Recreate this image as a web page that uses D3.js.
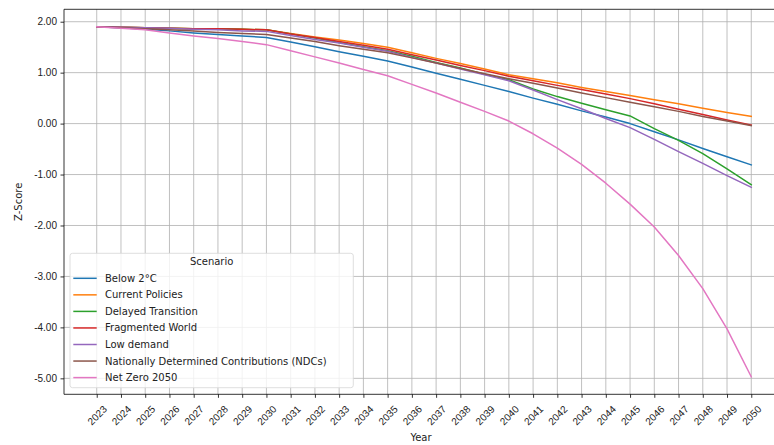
<!DOCTYPE html>
<html>
<head>
<meta charset="utf-8">
<script src="https://cdn.jsdelivr.net/npm/d3@7"></script>
<style>
  html, body { margin: 0; padding: 0; background: #fff; }
  svg { display: block; font-family: "DejaVu Sans", sans-serif; }
</style>
</head>
<body>
<svg id="chart" width="774" height="445"></svg>
<script>
// Z-score trajectories per scenario, one value per year 2023–2050
const years = d3.range(2023, 2051);

const scenarios = [
  "Below 2°C",
  "Current Policies",
  "Delayed Transition",
  "Fragmented World",
  "Low demand",
  "Nationally Determined Contributions (NDCs)",
  "Net Zero 2050"
];

const below2C = [1.90, 1.88, 1.85, 1.82, 1.78, 1.75, 1.72, 1.69,
  1.60, 1.51, 1.41, 1.32, 1.23, 1.11, 0.99, 0.87, 0.75, 0.63,
  0.50, 0.38, 0.25, 0.13, 0.00, -0.16, -0.32, -0.49, -0.65, -0.81];

const currentPolicies = [1.90, 1.89, 1.88, 1.87, 1.86, 1.86, 1.85, 1.84,
  1.77, 1.70, 1.64, 1.57, 1.50, 1.39, 1.28, 1.18, 1.07, 0.96,
  0.88, 0.80, 0.71, 0.63, 0.55, 0.47, 0.39, 0.30, 0.22, 0.14];

const delayedTransition = [1.90, 1.89, 1.88, 1.87, 1.86, 1.86, 1.85, 1.84,
  1.76, 1.68, 1.59, 1.51, 1.43, 1.32, 1.20, 1.09, 0.97, 0.86,
  0.68, 0.53, 0.40, 0.27, 0.15, -0.10, -0.33, -0.59, -0.89, -1.20];

const fragmentedWorld = [1.90, 1.89, 1.88, 1.87, 1.86, 1.86, 1.85, 1.84,
  1.76, 1.69, 1.61, 1.54, 1.46, 1.35, 1.25, 1.14, 1.04, 0.93,
  0.84, 0.75, 0.67, 0.58, 0.49, 0.39, 0.28, 0.18, 0.07, -0.03];

const lowDemand = [1.90, 1.89, 1.88, 1.87, 1.85, 1.84, 1.82, 1.81,
  1.73, 1.65, 1.58, 1.50, 1.42, 1.30, 1.19, 1.07, 0.96, 0.84,
  0.66, 0.47, 0.29, 0.10, -0.08, -0.31, -0.55, -0.78, -1.02, -1.25];

const ndcs = [1.90, 1.88, 1.86, 1.84, 1.82, 1.79, 1.77, 1.75,
  1.68, 1.61, 1.53, 1.46, 1.39, 1.29, 1.19, 1.08, 0.98, 0.88,
  0.79, 0.70, 0.60, 0.51, 0.42, 0.33, 0.24, 0.14, 0.05, -0.04];

const netZero2050 = [1.90, 1.87, 1.84, 1.78, 1.72, 1.67, 1.61, 1.55,
  1.43, 1.31, 1.19, 1.06, 0.94, 0.77, 0.60, 0.42, 0.24, 0.05,
  -0.20, -0.48, -0.80, -1.17, -1.58, -2.03, -2.59, -3.24, -4.03, -4.97];

const seriesValues = [below2C, currentPolicies, delayedTransition,
  fragmentedWorld, lowDemand, ndcs, netZero2050];

const yTicks = [-5, -4, -3, -2, -1, 0, 1, 2];

const colors = ["#1f77b4", "#ff7f0e", "#2ca02c", "#d62728",
  "#9467bd", "#8c564b", "#e377c2"];

// ---- layout ----
const svg = d3.select("#chart");
const plot = { left: 64, right: 784, top: 9.3, bottom: 394.3 };

// 5% padding around the data, like a default plotting margin
const xPad = (years[years.length - 1] - years[0]) * 0.05;
const x = d3.scaleLinear()
  .domain([years[0] - xPad, years[years.length - 1] + xPad])
  .range([plot.left, plot.right]);

const allVals = seriesValues.flat();
const yMin = d3.min(allVals), yMax = d3.max(allVals);
const yPad = (yMax - yMin) * 0.05;
const y = d3.scaleLinear()
  .domain([yMin - yPad, yMax + yPad])
  .range([plot.bottom, plot.top]);

// clip region for the plotting area
svg.append("defs").append("clipPath").attr("id", "plotClip")
  .append("rect")
  .attr("x", plot.left).attr("y", plot.top)
  .attr("width", plot.right - plot.left)
  .attr("height", plot.bottom - plot.top);

// ---- grid ----
const grid = svg.append("g").attr("clip-path", "url(#plotClip)");
grid.selectAll("line.vgrid").data(years).join("line")
  .attr("class", "vgrid")
  .attr("x1", d => x(d)).attr("x2", d => x(d))
  .attr("y1", plot.top).attr("y2", plot.bottom)
  .attr("stroke", "#b0b0b0").attr("stroke-width", 0.8);
grid.selectAll("line.hgrid").data(yTicks).join("line")
  .attr("class", "hgrid")
  .attr("x1", plot.left).attr("x2", plot.right)
  .attr("y1", d => y(d)).attr("y2", d => y(d))
  .attr("stroke", "#b0b0b0").attr("stroke-width", 0.8);

// ---- lines ----
const line = d3.line()
  .x((d, i) => x(years[i]))
  .y(d => y(d));

svg.append("g").attr("clip-path", "url(#plotClip)")
  .selectAll("path").data(seriesValues).join("path")
  .attr("d", d => line(d))
  .attr("fill", "none")
  .attr("stroke", (d, i) => colors[i])
  .attr("stroke-width", 1.5)
  .attr("stroke-linejoin", "round")
  .attr("stroke-linecap", "square");

// ---- axes ----
const xAxis = svg.append("g")
  .attr("transform", `translate(0,${plot.bottom})`)
  .call(d3.axisBottom(x).tickValues(years).tickSize(3.5).tickSizeOuter(0).tickFormat(d3.format("d")));
xAxis.select(".domain").remove();
xAxis.selectAll(".tick line").attr("stroke", "#000").attr("stroke-width", 0.8);
xAxis.selectAll(".tick text")
  .attr("font-size", 10)
  .attr("fill", "#222")
  .attr("text-anchor", "middle")
  .attr("dominant-baseline", "central")
  .attr("y", null).attr("dy", null)
  .attr("transform", "translate(0,21) rotate(-45)");

const yAxis = svg.append("g")
  .attr("transform", `translate(${plot.left},0)`)
  .call(d3.axisLeft(y).tickValues(yTicks).tickSize(3.5).tickPadding(3.5)
    .tickFormat(d => d.toFixed(2)));
yAxis.select(".domain").remove();
yAxis.selectAll(".tick line").attr("stroke", "#000").attr("stroke-width", 0.8);
yAxis.selectAll(".tick text").attr("font-size", 10).attr("fill", "#222");

// spines
const spines = svg.append("g").attr("stroke", "#000").attr("stroke-width", 0.8);
spines.append("line").attr("x1", plot.left).attr("x2", plot.left)
  .attr("y1", plot.top).attr("y2", plot.bottom);
spines.append("line").attr("x1", plot.left).attr("x2", plot.right)
  .attr("y1", plot.bottom).attr("y2", plot.bottom);
spines.append("line").attr("x1", plot.left).attr("x2", plot.right)
  .attr("y1", plot.top).attr("y2", plot.top);
spines.append("line").attr("x1", plot.right).attr("x2", plot.right)
  .attr("y1", plot.top).attr("y2", plot.bottom);

// axis titles
svg.append("text")
  .attr("x", (plot.left + plot.right) / 2 - 3).attr("y", 437)
  .attr("text-anchor", "middle").attr("dominant-baseline", "central")
  .attr("font-size", 10).attr("fill", "#222")
  .text("Year");

svg.append("text")
  .attr("transform", `translate(18,${(plot.top + plot.bottom) / 2}) rotate(-90)`)
  .attr("text-anchor", "middle").attr("dominant-baseline", "central")
  .attr("font-size", 10).attr("fill", "#222")
  .text("Z-Score");

// ---- legend ----
const lg = { x: 70, y: 253.3, w: 283.3, h: 134.4, rowH: 16.55, firstRow: 278.3 };
const legend = svg.append("g");
legend.append("rect")
  .attr("x", lg.x).attr("y", lg.y)
  .attr("width", lg.w).attr("height", lg.h)
  .attr("rx", 2.5).attr("ry", 2.5)
  .attr("fill", "#fff").attr("fill-opacity", 0.8)
  .attr("stroke", "#d6d6d6").attr("stroke-width", 0.8);

legend.append("text")
  .attr("x", lg.x + lg.w / 2).attr("y", 261.7)
  .attr("text-anchor", "middle").attr("dominant-baseline", "central")
  .attr("font-size", 10).attr("fill", "#222")
  .text("Scenario");

const rows = legend.selectAll("g.row").data(scenarios).join("g")
  .attr("class", "row")
  .attr("transform", (d, i) => `translate(0,${lg.firstRow + i * lg.rowH})`);
rows.append("line")
  .attr("x1", 73.3).attr("x2", 96.7)
  .attr("y1", 0).attr("y2", 0)
  .attr("stroke", (d, i) => colors[i]).attr("stroke-width", 1.5);
rows.append("text")
  .attr("x", 105).attr("y", 0)
  .attr("dominant-baseline", "central")
  .attr("font-size", 10).attr("fill", "#222")
  .text(d => d);
</script>
</body>
</html>
